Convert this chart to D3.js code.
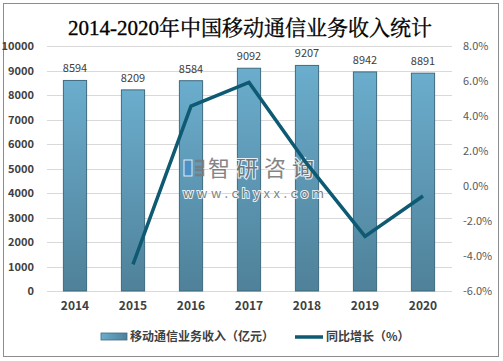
<!DOCTYPE html>
<html><head><meta charset="utf-8">
<script src="https://cdn.jsdelivr.net/npm/d3@7"></script>
<style>body{margin:0;background:#fff}svg{display:block}</style>
</head><body><svg id="c" width="503" height="361"></svg>
<script>
const years = ["2014","2015","2016","2017","2018","2019","2020"];
const revenue = [8594, 8209, 8584, 9092, 9207, 8942, 8891];
const growthYears = ["2015","2016","2017","2018","2019","2020"];
const growth = [-4.48, 4.57, 5.92, 1.26, -2.88, -0.57];
const leftTicks = [0,1000,2000,3000,4000,5000,6000,7000,8000,9000,10000];
const rightTicks = [-6,-4,-2,0,2,4,6,8];

const svg = d3.select("#c");
const font = "'Microsoft YaHei','Noto Sans CJK SC',sans-serif";
svg.append("rect").attr("x",3.5).attr("y",3.5).attr("width",495).attr("height",353)
  .attr("fill","#fff").attr("stroke","#8c8c8c").attr("stroke-width",1);

const L=46, R=452, T=46, B=291;
const x = d3.scaleBand().domain(years).range([L,R]).paddingInner(0.6).paddingOuter(0.3);
const y = d3.scaleLinear().domain([0,10000]).range([B,T]);
const y2 = d3.scaleLinear().domain([-6,8]).range([B,T]);

const defs = svg.append("defs");
const g1 = defs.append("linearGradient").attr("id","bg").attr("x1",0).attr("y1",0).attr("x2",0).attr("y2",1);
g1.append("stop").attr("offset","0%").attr("stop-color","#6badcd");
g1.append("stop").attr("offset","100%").attr("stop-color","#4f8199");
const g2 = defs.append("linearGradient").attr("id","lg").attr("x1",0).attr("y1",0).attr("x2",1).attr("y2",0);
g2.append("stop").attr("offset","0%").attr("stop-color","#6badcd");
g2.append("stop").attr("offset","100%").attr("stop-color","#4f8199");

// gridlines
svg.append("g").selectAll("line").data(leftTicks).join("line")
  .attr("x1",L+1).attr("x2",R).attr("y1",d=>Math.round(y(d))+0.5).attr("y2",d=>Math.round(y(d))+0.5)
  .attr("stroke","#d9d9d9").attr("stroke-width",1);

// left axis
const ax = svg.append("g").attr("transform",`translate(${L},0)`)
  .call(d3.axisLeft(y).tickValues(leftTicks).tickSize(0).tickPadding(12).tickFormat(d3.format("d")));
ax.select(".domain").remove();
ax.selectAll("text").attr("font-family",font).attr("font-size",11).attr("font-weight","bold").attr("fill","#404040");

// right axis
const ax2 = svg.append("g").attr("transform",`translate(${R},0)`)
  .call(d3.axisRight(y2).tickValues(rightTicks).tickSize(0).tickPadding(11).tickFormat(d=>d.toFixed(1)+"%"));
ax2.select(".domain").remove();
ax2.selectAll("text").attr("font-family",font).attr("font-size",11).attr("fill","#595959");

// bottom axis
const ax3 = svg.append("g").attr("transform",`translate(0,${B})`)
  .call(d3.axisBottom(x).tickSize(0).tickPadding(10));
ax3.select(".domain").remove();
ax3.selectAll("text").attr("font-family",font).attr("font-size",12).attr("font-weight","bold").attr("fill","#404040");

// bars
svg.append("g").selectAll("rect").data(revenue).join("rect")
  .attr("x",(d,i)=>x(years[i])).attr("width",x.bandwidth())
  .attr("y",d=>y(d)).attr("height",d=>B-y(d))
  .attr("fill","url(#bg)").attr("stroke","#3f6a7f").attr("stroke-width",1);

// bar labels
svg.append("g").selectAll("text").data(revenue).join("text")
  .attr("x",(d,i)=>x(years[i])+x.bandwidth()/2).attr("y",d=>y(d)-8)
  .attr("text-anchor","middle").attr("font-family",font).attr("font-size",11).attr("fill","#404040")
  .text(d=>d);

// watermark
const wm = svg.append("g").attr("opacity",0.85);
wm.append("rect").attr("x",184).attr("y",160).attr("width",8).attr("height",16).attr("fill","#4a8fc9").attr("stroke","#fff").attr("stroke-width",1);
wm.append("path").attr("d","M195,161 h8 v6 h-8 M195,170 h8 v5 h-8").attr("fill","none").attr("stroke","#7a7a7a").attr("stroke-width",2.5);
wm.append("text").attr("x",208).attr("y",176).attr("font-family",font).attr("font-size",22).attr("letter-spacing",6)
  .attr("fill","#707070").attr("stroke","#fff").attr("stroke-width",2).attr("paint-order","stroke").text("智研咨询");
wm.append("text").attr("x",183).attr("y",198).attr("font-family",font).attr("font-size",13).attr("letter-spacing",3.6)
  .attr("fill","#707070").attr("stroke","#fff").attr("stroke-width",2).attr("paint-order","stroke").text("www.chyxx.com");

// line
const line = d3.line().x((d,i)=>x(growthYears[i])+x.bandwidth()/2).y(d=>y2(d));
svg.append("path").datum(growth).attr("d",line).attr("fill","none")
  .attr("stroke","#0e5a72").attr("stroke-width",3.5).attr("stroke-linejoin","miter");

// title
svg.append("text").attr("x",250).attr("y",35).attr("text-anchor","middle")
  .attr("font-family","'Liberation Serif','Noto Serif CJK SC','Noto Sans CJK SC',serif").attr("font-size",21)
  .attr("fill","#000").attr("stroke","#000").attr("stroke-width",0.35).text("2014-2020年中国移动通信业务收入统计");

// legend
svg.append("rect").attr("x",101).attr("y",333).attr("width",26).attr("height",7).attr("fill","url(#lg)").attr("stroke","#3f6a7f").attr("stroke-width",0.8);
svg.append("text").attr("x",130).attr("y",341).attr("font-family",font).attr("font-size",12).attr("font-weight","bold").attr("fill","#404040").text("移动通信业务收入（亿元）");
svg.append("line").attr("x1",295).attr("x2",323).attr("y1",337).attr("y2",337).attr("stroke","#0e5a72").attr("stroke-width",3.5);
svg.append("text").attr("x",326).attr("y",341).attr("font-family",font).attr("font-size",12).attr("font-weight","bold").attr("fill","#404040").text("同比增长（%）");
</script></body></html>
